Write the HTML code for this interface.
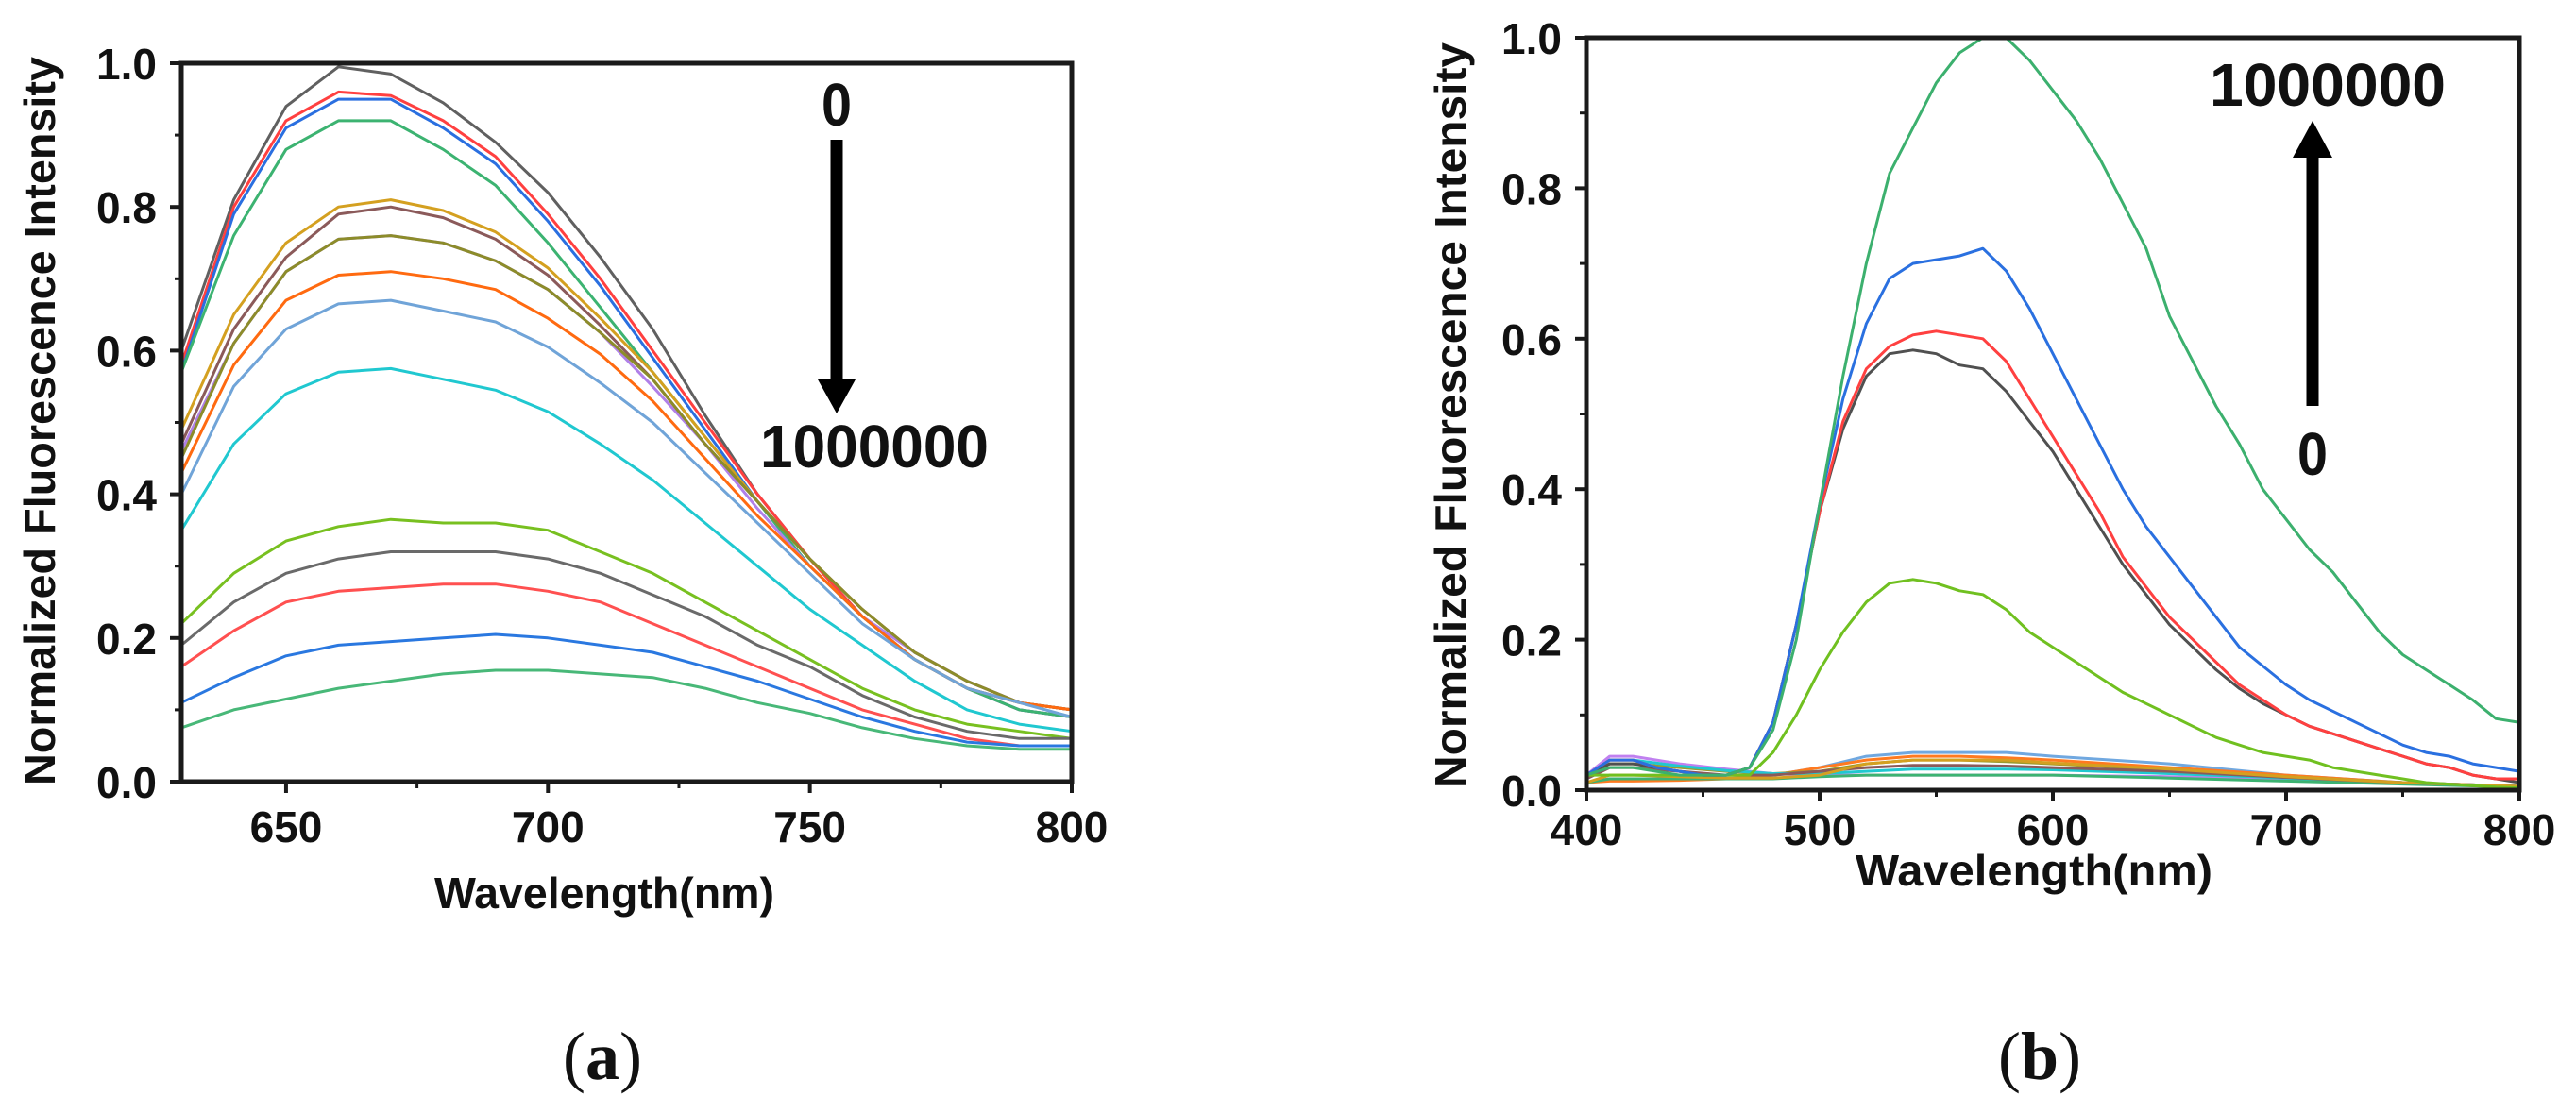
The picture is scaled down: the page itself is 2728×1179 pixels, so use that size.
<!DOCTYPE html>
<html><head><meta charset="utf-8"><style>
html,body{margin:0;padding:0;background:#fff;}
svg{display:block;}
text{font-family:"Liberation Sans",Arial,sans-serif;font-weight:bold;fill:#111;}
.cap{font-family:"Liberation Serif",serif;font-weight:normal;}
</style></head><body>
<svg id="fig" width="2728" height="1179" viewBox="0 0 2728 1179">
<g id="panelA"></g>
<g id="panelB"></g>
<text class="cap" x="638" y="1143" font-size="72" text-anchor="middle">(<tspan font-weight="bold">a</tspan>)</text>
<text class="cap" x="2160" y="1143" font-size="72" text-anchor="middle">(<tspan font-weight="bold">b</tspan>)</text>
</svg>
<script>
// ---------- Panel A data ----------
const aWavelengths = [630,640,650,660,670,680,690,700,710,720,730,740,750,760,770,780,790,800];
const aColors = ['#606060','#ff4040','#2a6fe0','#3cb371','#d4a020','#8b5a5a','#b080e8','#8c8c2a','#ff6a10','#70a4d8','#20c8d0','#78c020','#6a6a6a','#ff5050','#2a78e0','#48b878'];
const aS0 = [0.60,0.81,0.94,0.995,0.985,0.945,0.89,0.82,0.73,0.63,0.51,0.40,0.31,0.23,0.17,0.13,0.11,0.10];
const aS1 = [0.58,0.80,0.92,0.96,0.955,0.92,0.87,0.79,0.70,0.60,0.50,0.40,0.31,0.23,0.17,0.13,0.10,0.09];
const aS2 = [0.57,0.79,0.91,0.95,0.95,0.91,0.86,0.78,0.69,0.59,0.49,0.39,0.30,0.23,0.17,0.13,0.10,0.09];
const aS3 = [0.57,0.76,0.88,0.92,0.92,0.88,0.83,0.75,0.66,0.57,0.48,0.39,0.30,0.23,0.17,0.13,0.10,0.09];
const aS4 = [0.49,0.65,0.75,0.80,0.81,0.795,0.765,0.715,0.645,0.57,0.48,0.39,0.31,0.24,0.18,0.14,0.11,0.10];
const aS5 = [0.47,0.63,0.73,0.79,0.80,0.785,0.755,0.705,0.635,0.56,0.47,0.39,0.31,0.24,0.18,0.14,0.11,0.10];
const aS6 = [0.46,0.61,0.71,0.755,0.76,0.75,0.725,0.685,0.625,0.55,0.47,0.38,0.30,0.23,0.18,0.14,0.11,0.10];
const aS7 = [0.45,0.61,0.71,0.755,0.76,0.75,0.725,0.685,0.625,0.56,0.47,0.39,0.31,0.24,0.18,0.14,0.11,0.10];
const aS8 = [0.43,0.58,0.67,0.705,0.71,0.70,0.685,0.645,0.595,0.53,0.45,0.37,0.30,0.23,0.17,0.13,0.11,0.10];
const aS9 = [0.40,0.55,0.63,0.665,0.67,0.655,0.64,0.605,0.555,0.50,0.43,0.36,0.29,0.22,0.17,0.13,0.11,0.09];
const aS10 = [0.35,0.47,0.54,0.57,0.575,0.56,0.545,0.515,0.47,0.42,0.36,0.30,0.24,0.19,0.14,0.10,0.08,0.07];
const aS11 = [0.22,0.29,0.335,0.355,0.365,0.36,0.36,0.35,0.32,0.29,0.25,0.21,0.17,0.13,0.10,0.08,0.07,0.06];
const aS12 = [0.19,0.25,0.29,0.31,0.32,0.32,0.32,0.31,0.29,0.26,0.23,0.19,0.16,0.12,0.09,0.07,0.06,0.06];
const aS13 = [0.16,0.21,0.25,0.265,0.27,0.275,0.275,0.265,0.25,0.22,0.19,0.16,0.13,0.10,0.08,0.06,0.05,0.05];
const aS14 = [0.11,0.145,0.175,0.19,0.195,0.20,0.205,0.20,0.19,0.18,0.16,0.14,0.115,0.09,0.07,0.055,0.05,0.05];
const aS15 = [0.075,0.10,0.115,0.13,0.14,0.15,0.155,0.155,0.15,0.145,0.13,0.11,0.095,0.075,0.06,0.05,0.045,0.045];
const aSeries = [aS0,aS1,aS2,aS3,aS4,aS5,aS6,aS7,aS8,aS9,aS10,aS11,aS12,aS13,aS14,aS15];
const aXTicks = [650,700,750,800];
const aXMinor = [675,725,775];
const aYTicks = ['0.0','0.2','0.4','0.6','0.8','1.0'];

// ---------- Panel B data ----------
const bWavelengths = [400,410,420,430,440,450,460,470,480,490,500,510,520,530,540,550,560,570,580,590,600,610,620,630,640,650,660,670,680,690,700,710,720,730,740,750,760,770,780,790,800];
const bGreen = [0.02,0.03,0.03,0.025,0.02,0.02,0.02,0.03,0.08,0.20,0.38,0.55,0.70,0.82,0.88,0.94,0.98,1.0,1.0,0.97,0.93,0.89,0.84,0.78,0.72,0.63,0.57,0.51,0.46,0.40,0.36,0.32,0.29,0.25,0.21,0.18,0.16,0.14,0.12,0.095,0.09];
const bBlue = [0.02,0.04,0.04,0.03,0.025,0.02,0.02,0.03,0.09,0.22,0.38,0.52,0.62,0.68,0.70,0.705,0.71,0.72,0.69,0.64,0.58,0.52,0.46,0.40,0.35,0.31,0.27,0.23,0.19,0.165,0.14,0.12,0.105,0.09,0.075,0.06,0.05,0.045,0.035,0.03,0.025];
const bRed = [0.02,0.04,0.04,0.03,0.025,0.02,0.02,0.03,0.09,0.22,0.37,0.49,0.56,0.59,0.605,0.61,0.605,0.60,0.57,0.52,0.47,0.42,0.37,0.31,0.27,0.23,0.20,0.17,0.14,0.12,0.10,0.085,0.075,0.065,0.055,0.045,0.035,0.03,0.02,0.015,0.015];
const bBlack = [0.02,0.035,0.035,0.03,0.025,0.02,0.02,0.03,0.09,0.22,0.37,0.48,0.55,0.58,0.585,0.58,0.565,0.56,0.53,0.49,0.45,0.40,0.35,0.30,0.26,0.22,0.19,0.16,0.135,0.115,0.10,0.085,0.075,0.065,0.055,0.045,0.035,0.03,0.02,0.015,0.01];
const bLime = [0.02,0.02,0.02,0.02,0.02,0.02,0.02,0.02,0.05,0.10,0.16,0.21,0.25,0.275,0.28,0.275,0.265,0.26,0.24,0.21,0.19,0.17,0.15,0.13,0.115,0.10,0.085,0.07,0.06,0.05,0.045,0.04,0.03,0.025,0.02,0.015,0.01,0.008,0.006,0.004,0.003];
const bMajor = [bBlack,bLime,bRed,bBlue,bGreen];
const bMajorColors = ['#505050','#70c020','#ff4040','#2a70e0','#3cb06e'];
const bSmallWavelengths = [400,410,420,440,460,480,500,520,540,560,580,600,650,700,750,800];
const bM1 = [0.01,0.015,0.015,0.015,0.015,0.02,0.03,0.045,0.05,0.05,0.05,0.045,0.035,0.02,0.01,0.005];
const bM2 = [0.01,0.012,0.012,0.013,0.015,0.02,0.03,0.04,0.045,0.045,0.043,0.04,0.03,0.02,0.01,0.005];
const bM3 = [0.02,0.035,0.035,0.03,0.025,0.022,0.025,0.035,0.04,0.04,0.038,0.035,0.027,0.018,0.01,0.005];
const bM4 = [0.02,0.045,0.045,0.035,0.028,0.022,0.02,0.02,0.02,0.02,0.02,0.02,0.018,0.014,0.01,0.005];
const bM5 = [0.02,0.04,0.04,0.032,0.026,0.022,0.022,0.025,0.028,0.028,0.028,0.027,0.022,0.016,0.01,0.005];
const bM6 = [0.01,0.015,0.015,0.015,0.015,0.015,0.018,0.02,0.02,0.02,0.02,0.02,0.016,0.012,0.008,0.004];
const bM7 = [0.015,0.03,0.03,0.025,0.02,0.02,0.025,0.03,0.033,0.033,0.032,0.03,0.025,0.017,0.01,0.005];
const bM8 = [0.01,0.02,0.02,0.018,0.016,0.016,0.02,0.035,0.04,0.04,0.04,0.036,0.028,0.018,0.01,0.005];
const bMinor = [bM1,bM2,bM3,bM4,bM5,bM6,bM7,bM8];
const bMinorColors = ['#70a8e0','#ff7a20','#9a9a30','#c080f0','#20c8d0','#3cb371','#8b5a5a','#d4a020'];
const bXTicks = [400,500,600,700,800];
const bXMinor = [450,550,650,750];
const bYTicks = ['0.0','0.2','0.4','0.6','0.8','1.0'];

const NS = 'http://www.w3.org/2000/svg';
function mk(parent, tag, attrs){
  const e = document.createElementNS(NS, tag);
  for (const k in attrs) e.setAttribute(k, attrs[k]);
  parent.appendChild(e);
  return e;
}

function drawPanel(g, cfg){
  const xs = v => cfg.L + (v - cfg.x0) / (cfg.x1 - cfg.x0) * (cfg.R - cfg.L);
  const ys = v => cfg.B - v * (cfg.B - cfg.T);
  cfg.series.forEach((s, i) => {
    const pts = s.y.map((v, j) => xs(s.x[j]).toFixed(1) + ',' + ys(v).toFixed(1)).join(' ');
    const p = mk(g, 'polyline', {points: pts, fill: 'none', stroke: s.c, 'stroke-width': 3, 'stroke-linejoin': 'round'});
    
    
  });
  const fr = mk(g, 'rect', {x: cfg.L, y: cfg.T, width: cfg.R - cfg.L, height: cfg.B - cfg.T, fill: 'none', stroke: '#1a1a1a', 'stroke-width': 5});
  
  
  cfg.xticks.forEach(t => {
    const x = xs(t);
    const l = mk(g, 'line', {x1: x, x2: x, y1: cfg.B, y2: cfg.B + 12, stroke: '#1a1a1a', 'stroke-width': 4});
    
    
    const tx = mk(g, 'text', {x: x, y: cfg.xLabelY, 'font-size': 46, 'text-anchor': 'middle'});
    tx.textContent = t;
    
    
  });
  cfg.xminor.forEach(t => {
    const x = xs(t);
    const l = mk(g, 'line', {x1: x, x2: x, y1: cfg.B, y2: cfg.B + 7, stroke: '#1a1a1a', 'stroke-width': 3});
    
    
  });
  cfg.yticks.forEach(lab => {
    const y = ys(parseFloat(lab));
    const l = mk(g, 'line', {x1: cfg.L - 12, x2: cfg.L, y1: y, y2: y, stroke: '#1a1a1a', 'stroke-width': 4});
    
    
    const tx = mk(g, 'text', {x: cfg.L - 26, y: y + 17, 'font-size': 46, 'text-anchor': 'end'});
    tx.textContent = lab;
    
    
    const ym = ys(parseFloat(lab) + 0.1);
    if (parseFloat(lab) < 1) {
      const m = mk(g, 'line', {x1: cfg.L - 7, x2: cfg.L, y1: ym, y2: ym, stroke: '#1a1a1a', 'stroke-width': 3});
      
      
    }
  });
  const xt = mk(g, 'text', {x: cfg.xTitleX, y: cfg.xTitleY, 'font-size': 46, 'text-anchor': 'middle', textLength: cfg.xTitleW, lengthAdjust: 'spacingAndGlyphs'});
  xt.textContent = 'Wavelength(nm)';
  
  
  const yt = mk(g, 'text', {x: 0, y: 0, 'font-size': 46, 'text-anchor': 'middle', textLength: cfg.yTitleLen, lengthAdjust: 'spacingAndGlyphs', transform: 'translate(' + cfg.yTitleX + ',' + cfg.yTitleY + ') rotate(-90)'});
  yt.textContent = 'Normalized Fluorescence Intensity';
  
  
}

const aSer = aSeries.map((y, i) => ({x: aWavelengths, y: y, c: aColors[i]}));
drawPanel(document.getElementById('panelA'), {
  id: 'a', L: 192, R: 1135, T: 67, B: 828, x0: 630, x1: 800,
  series: aSer, xticks: aXTicks, xminor: aXMinor, yticks: aYTicks,
  xLabelY: 892, xTitleX: 640, xTitleY: 962, xTitleW: 360,
  yTitleX: 58, yTitleY: 446, yTitleLen: 772
});
const bSer = bMinor.map((y, i) => ({x: bSmallWavelengths, y: y, c: bMinorColors[i]}))
  .concat(bMajor.map((y, i) => ({x: bWavelengths, y: y, c: bMajorColors[i]})));
drawPanel(document.getElementById('panelB'), {
  id: 'b', L: 1680, R: 2668, T: 40, B: 837, x0: 400, x1: 800,
  series: bSer, xticks: bXTicks, xminor: bXMinor, yticks: bYTicks,
  xLabelY: 895, xTitleX: 2154, xTitleY: 938, xTitleW: 378,
  yTitleX: 1552, yTitleY: 440, yTitleLen: 790
});

const gA = document.getElementById('panelA');
const gB = document.getElementById('panelB');
function ann(g, txt, x, y, w, name){
  const t = mk(g, 'text', {x: x, y: y, 'font-size': 64, 'text-anchor': 'middle', textLength: w, lengthAdjust: 'spacingAndGlyphs'});
  t.textContent = txt;
  
  
}
ann(gA, '0', 886, 133, 32, 'a-start-label');
ann(gA, '1000000', 926, 495, 242, 'a-end-label');
const aSh = mk(gA, 'line', {x1: 886, x2: 886, y1: 148, y2: 404, stroke: '#000', 'stroke-width': 13});


const aHd = mk(gA, 'polygon', {points: '866,402 906,402 886,438', fill: '#000'});



ann(gB, '1000000', 2465, 112, 250, 'b-end-label');
ann(gB, '0', 2449, 503, 32, 'b-start-label');
const bSh = mk(gB, 'line', {x1: 2449, x2: 2449, y1: 165, y2: 430, stroke: '#000', 'stroke-width': 13});


const bHd = mk(gB, 'polygon', {points: '2428,167 2470,167 2449,128', fill: '#000'});


</script>
</body></html>
